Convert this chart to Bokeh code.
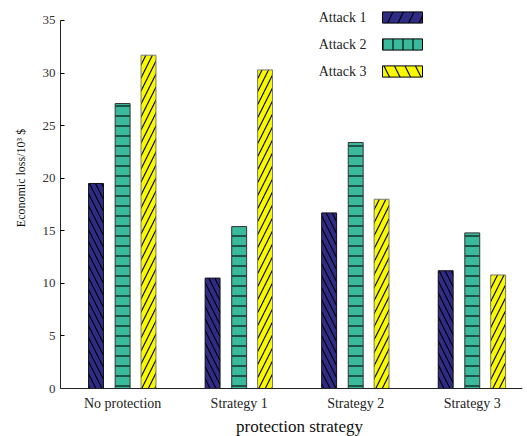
from bokeh.plotting import figure
from bokeh.models import (Range1d, FixedTicker, Legend, LegendItem, Label, Span,
                          ColumnDataSource)
from bokeh.core.properties import value
from bokeh.embed import file_html
from bokeh.resources import INLINE
import numpy as np

categories = ["No protection", "Strategy 1", "Strategy 2", "Strategy 3"]
series_names = ["Attack 1", "Attack 2", "Attack 3"]
attack1 = [19.5, 10.5, 16.7, 11.2]
attack2 = [27.1, 15.4, 23.4, 14.8]
attack3 = [31.7, 30.3, 18.0, 10.8]
y_ticks = [0, 5, 10, 15, 20, 25, 30, 35]

FONT = "Liberation Serif"
colors = ["#302b85", "#3bb99b", "#f8f800"]
edges = ["#111111", "#333333", "#7a7a7a"]
bar_hatch = ["left_diagonal_line", "horizontal_line", "right_diagonal_line"]
bar_scale = [12, 10, 13]
leg_hatch = ["right_diagonal_line", "vertical_line", "left_diagonal_line"]
leg_scale = [21, 10, 21]
offsets = [-0.228, 0.0, 0.222]
bar_w = 0.128

p = figure(width=527, height=436, output_backend="svg", toolbar_location=None,
           x_range=Range1d(-0.033, 3.931), y_range=Range1d(-4.565, 36.902),
           x_axis_location=None,
           min_border_left=60, min_border_right=5, min_border_top=0, min_border_bottom=0)
p.outline_line_color = None
p.grid.visible = False
p.background_fill_color = "white"

centers = np.arange(len(categories)) + 0.5
series = [attack1, attack2, attack3]
for i, vals in enumerate(series):
    src = ColumnDataSource(dict(x=centers + offsets[i], top=vals))
    p.vbar(x="x", top="top", bottom=0, width=bar_w, source=src,
           fill_color=colors[i], line_color=edges[i], line_width=1,
           hatch_pattern=bar_hatch[i], hatch_color="black",
           hatch_scale=bar_scale[i], hatch_weight=1.1)

# x axis: baseline at zero + category labels
p.add_layout(Span(location=0, dimension="width", line_color="#222222", line_width=1))
cat_src = ColumnDataSource(dict(x=centers, y=np.zeros(len(categories)), t=categories))
p.text(x="x", y="y", text="t", source=cat_src, y_offset=7, text_align="center",
       text_baseline="top", text_font=value(FONT), text_font_size="14px", text_color="#222222")
p.add_layout(Label(x=239, y=10, x_units="screen", y_units="screen", text="protection strategy",
                   text_align="center", text_baseline="alphabetic", text_font=FONT,
                   text_font_size="17px", text_color="#111111"))

# legend swatches: hidden renderers carrying the legend styles
items = []
for i, name in enumerate(series_names):
    r = p.vbar(x=[centers[0]], top=[0], width=bar_w, fill_color=colors[i], line_color="black",
               hatch_pattern=leg_hatch[i], hatch_color="black", hatch_scale=leg_scale[i],
               hatch_weight=1.1, visible=False)
    items.append(LegendItem(label=" ", renderers=[r], index=0))
legend = Legend(items=items, location=(317, 358), glyph_width=50, glyph_height=14,
                label_height=14, label_width=1, label_standoff=0, spacing=13, padding=0, margin=0,
                border_line_color=None, background_fill_alpha=0, label_text_font_size="4px",
                inactive_fill_alpha=0)
p.add_layout(legend)
for i, name in enumerate(series_names):
    p.add_layout(Label(x=306, y=419 - 27 * i, x_units="screen", y_units="screen", text=name,
                       text_align="right", text_baseline="middle", text_font=FONT,
                       text_font_size="14px", text_color="#222222"))

ya = p.yaxis[0]
ya.bounds = (0, 35)
ya.ticker = FixedTicker(ticks=y_ticks)
ya.major_tick_in = 4
ya.major_tick_out = 0
ya.minor_tick_line_color = None
ya.major_label_standoff = 5
ya.major_label_text_font = FONT
ya.major_label_text_font_size = "13px"
ya.major_label_text_color = "#333333"
ya.axis_label = "\u00a0" * 27 + "Economic loss/10\u00b3 $"
ya.axis_label_text_font = FONT
ya.axis_label_text_font_size = "12px"
ya.axis_label_text_font_style = "normal"
ya.axis_label_text_color = "#111111"
ya.axis_label_standoff = 12
ya.axis_line_color = "#222222"

open("out.html", "w").write(file_html(p, INLINE))
